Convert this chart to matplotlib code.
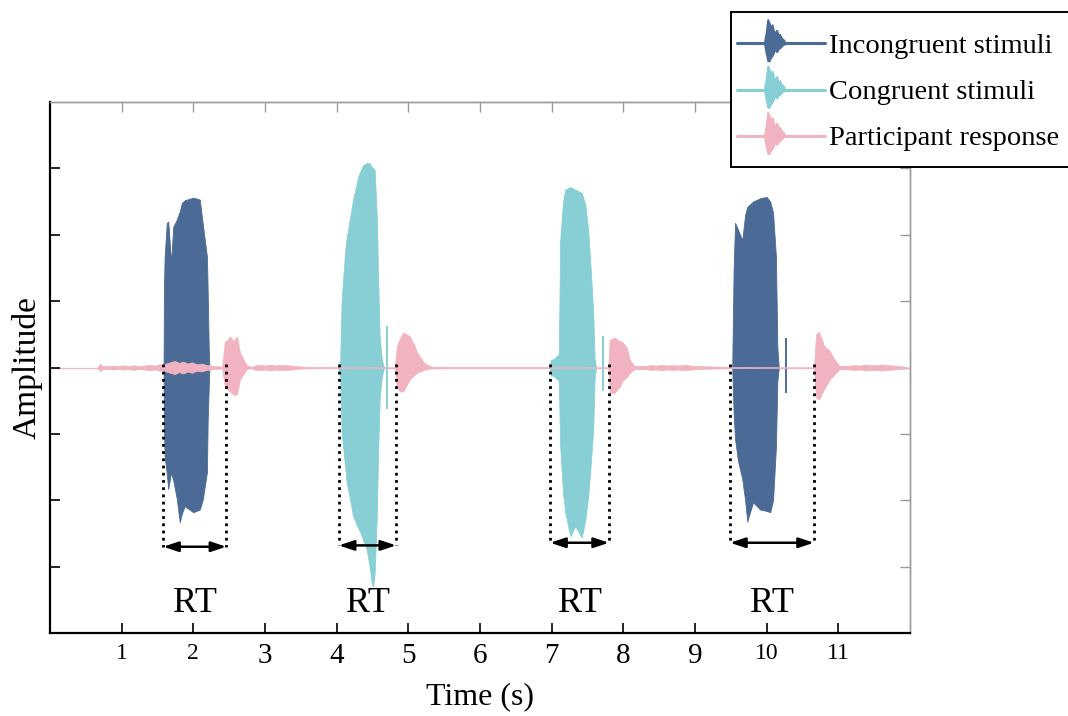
import matplotlib
matplotlib.use("Agg")
import matplotlib.pyplot as plt
from matplotlib.legend_handler import HandlerBase
from matplotlib.lines import Line2D
from matplotlib.patches import Polygon
import numpy as np

# ---------------------------------------------------------------
# Waveform envelopes (time in s, amplitude in arbitrary units)
# ---------------------------------------------------------------
# Incongruent stimulus 1
inc1_t = [1.585, 1.59, 1.60, 1.63, 1.65, 1.69, 1.72, 1.77, 1.81, 1.84, 1.88, 2.00, 2.09, 2.13, 2.19, 2.20, 2.215, 2.225]
inc1_up = [0.0, 1.20, 1.67, 2.18, 2.20, 1.58, 2.12, 2.23, 2.35, 2.48, 2.52, 2.56, 2.53, 2.18, 1.67, 1.17, 0.30, 0.0]
inc1_lo = [0.0, -0.90, -1.34, -1.60, -1.83, -1.58, -1.70, -1.98, -2.33, -2.20, -2.09, -2.18, -2.14, -2.00, -1.58, -0.83, -0.30, 0.0]

# Congruent stimulus 1
con1_t = [4.02, 4.05, 4.07, 4.12, 4.14, 4.19, 4.23, 4.30, 4.33, 4.37, 4.42, 4.46, 4.49, 4.51, 4.53, 4.56, 4.58, 4.60, 4.63, 4.66]
con1_up = [0.0, 0.10, 1.02, 1.77, 1.95, 2.27, 2.53, 2.87, 2.95, 3.05, 3.08, 3.08, 3.02, 3.00, 2.98, 2.27, 1.28, 0.47, 0.12, 0.0]
con1_lo = [0.0, -0.14, -0.98, -1.50, -1.73, -2.00, -2.24, -2.42, -2.48, -2.60, -2.74, -3.00, -3.25, -3.30, -3.10, -2.24, -1.23, -0.48, -0.14, 0.0]

# Congruent stimulus 2
con2_t = [6.97, 6.99, 7.02, 7.05, 7.10, 7.12, 7.16, 7.19, 7.26, 7.33, 7.42, 7.47, 7.51, 7.55, 7.58, 7.60, 7.62]
con2_up = [0.0, 0.12, 0.12, 0.15, 0.20, 1.92, 2.50, 2.68, 2.72, 2.68, 2.63, 2.45, 2.07, 1.40, 0.83, 0.12, 0.0]
con2_lo = [0.0, -0.12, -0.12, -0.15, -0.20, -1.20, -1.90, -2.18, -2.54, -2.39, -2.56, -2.30, -1.94, -1.40, -0.93, -0.15, 0.0]

# Incongruent stimulus 2
inc2_t = [9.52, 9.54, 9.56, 9.60, 9.66, 9.70, 9.73, 9.81, 9.91, 10.00, 10.05, 10.09, 10.13, 10.15, 10.17]
inc2_up = [0.0, 1.50, 2.18, 2.08, 1.92, 2.30, 2.42, 2.50, 2.55, 2.57, 2.50, 2.33, 1.67, 0.30, 0.0]
inc2_lo = [0.0, -0.70, -1.08, -1.40, -1.68, -2.00, -2.32, -2.03, -2.14, -2.16, -2.18, -2.00, -1.19, -0.20, 0.0]

# Short clicks at the end of some stimuli: time, low, high
click_t = [4.70, 7.72, 10.27]
click_lo = [-0.63, -0.36, -0.38]
click_hi = [0.62, 0.47, 0.45]
click_kind = ["congruent", "congruent", "incongruent"]

# Participant responses
resp1_t = [2.40, 2.44, 2.48, 2.51, 2.56, 2.61, 2.65, 2.70, 2.75, 2.82]
resp1_up = [0.0, 0.39, 0.42, 0.47, 0.40, 0.47, 0.23, 0.12, 0.03, 0.01]
resp1_lo = [0.0, -0.29, -0.33, -0.36, -0.41, -0.41, -0.18, -0.10, -0.02, -0.01]

resp2_t = [4.81, 4.84, 4.88, 4.93, 5.02, 5.08, 5.12, 5.23, 5.33]
resp2_up = [0.0, 0.32, 0.43, 0.53, 0.47, 0.35, 0.23, 0.06, 0.01]
resp2_lo = [0.0, -0.29, -0.36, -0.36, -0.18, -0.12, -0.08, -0.03, -0.01]

resp3_t = [7.79, 7.81, 7.88, 7.95, 7.99, 8.05, 8.09, 8.16, 8.30]
resp3_up = [0.0, 0.42, 0.45, 0.40, 0.38, 0.30, 0.12, 0.02, 0.01]
resp3_lo = [0.0, -0.38, -0.38, -0.29, -0.20, -0.14, -0.08, -0.02, -0.01]

resp4_t = [10.66, 10.69, 10.73, 10.80, 10.88, 10.95, 11.02, 11.15]
resp4_up = [0.0, 0.50, 0.54, 0.33, 0.25, 0.12, 0.02, 0.01]
resp4_lo = [0.0, -0.45, -0.48, -0.33, -0.18, -0.10, -0.02, -0.01]

# Background noise on the response channel (half-width of the band)
noise_t = [0.66, 0.68, 0.70, 0.72, 0.74, 0.80, 0.88, 0.95, 1.02, 1.10, 1.18, 1.25, 1.32, 1.40, 1.47, 1.53, 1.58,
           1.62, 1.68, 1.74, 1.80, 1.86, 1.92, 1.98, 2.05, 2.12, 2.18, 2.24, 2.30, 2.36, 2.40,
           2.82, 2.85, 2.92, 3.00, 3.08, 3.15, 3.22, 3.30, 3.38, 3.45, 3.52, 3.60, 4.00, 4.80,
           5.33, 5.40, 5.50, 6.00, 6.90, 7.79,
           8.30, 8.38, 8.46, 8.54, 8.62, 8.70, 8.78, 8.86, 8.94, 9.02, 9.10, 9.50, 10.66,
           11.15, 11.22, 11.30, 11.38, 11.46, 11.54, 11.62, 11.70, 11.78, 11.86, 11.95]
noise_amp = [0.0, 0.03, 0.06, 0.03, 0.025, 0.02, 0.03, 0.02, 0.03, 0.025, 0.035, 0.02, 0.03, 0.04, 0.03, 0.05, 0.04,
             0.06, 0.08, 0.10, 0.07, 0.09, 0.06, 0.08, 0.05, 0.06, 0.04, 0.03, 0.02, 0.02, 0.0,
             0.01, 0.03, 0.04, 0.03, 0.045, 0.03, 0.04, 0.035, 0.03, 0.02, 0.015, 0.01, 0.008, 0.0,
             0.01, 0.015, 0.01, 0.008, 0.008, 0.0,
             0.025, 0.035, 0.03, 0.04, 0.03, 0.035, 0.03, 0.04, 0.03, 0.025, 0.02, 0.01, 0.0,
             0.03, 0.035, 0.03, 0.045, 0.035, 0.04, 0.045, 0.035, 0.03, 0.02, 0.01]

# Reaction-time windows: stimulus onset -> response onset
rt_start = [1.58, 4.03, 6.98, 9.49]
rt_end = [2.46, 4.83, 7.80, 10.66]
rt_level = [-2.70, -2.68, -2.64, -2.64]
rt_label = "RT"

x_ticks = [1, 2, 3, 4, 5, 6, 7, 8, 9, 10, 11]
y_ticks = [-3, -2, -1, 0, 1, 2, 3]

legend_labels = ["Incongruent stimuli", "Congruent stimuli", "Participant response"]

# ---------------------------------------------------------------
colors = {
    "incongruent": "#4b6a96",
    "congruent": "#87cfd4",
    "response": "#f2b3c0",
}
frame_grey = "#9a9a9a"

plt.rcParams["font.family"] = ["Liberation Serif", "DejaVu Serif"]

fig = plt.figure(figsize=(10.68, 7.16), dpi=100)
ax = fig.add_axes([0.0468, 0.1159, 0.8052, 0.7416])

ax.set_xlim(0, 12)
ax.set_ylim(-4, 4)

# thin baseline of the response channel
ax.axhline(0, color=colors["response"], lw=0.9, zorder=1)

# stimuli
for t, up, lo, kind in [
    (inc1_t, inc1_up, inc1_lo, "incongruent"),
    (con1_t, con1_up, con1_lo, "congruent"),
    (con2_t, con2_up, con2_lo, "congruent"),
    (inc2_t, inc2_up, inc2_lo, "incongruent"),
]:
    ax.fill_between(t, lo, up, color=colors[kind], lw=0.6, edgecolor=colors[kind], zorder=2)

for t, lo, hi, kind in zip(click_t, click_lo, click_hi, click_kind):
    ax.vlines(t, lo, hi, color=colors[kind], lw=1.4, zorder=2)

# participant responses
for t, up, lo in [
    (resp1_t, resp1_up, resp1_lo),
    (resp2_t, resp2_up, resp2_lo),
    (resp3_t, resp3_up, resp3_lo),
    (resp4_t, resp4_up, resp4_lo),
]:
    ax.fill_between(t, lo, up, color=colors["response"], lw=0.5, edgecolor=colors["response"], zorder=3)

noise_lo = [-a for a in noise_amp]
ax.fill_between(noise_t, noise_lo, noise_amp, color=colors["response"], lw=0.5,
                edgecolor=colors["response"], zorder=3)

# RT markers
for s, e, lvl in zip(rt_start, rt_end, rt_level):
    ax.plot([s, s], [0.05, lvl], ls=(0, (1, 1.6)), color="black", lw=2, zorder=5)
    ax.plot([e, e], [0.05, lvl], ls=(0, (1, 1.6)), color="black", lw=2, zorder=5)
    ax.annotate("", xy=(e, lvl), xytext=(s, lvl),
                arrowprops=dict(arrowstyle="<|-|>,head_length=0.9,head_width=0.3",
                                color="black", lw=1.8, shrinkA=0, shrinkB=0),
                zorder=6)
    ax.text((s + e) / 2, -3.56, rt_label, ha="center", va="center", fontsize=26)

# axes styling: black left/bottom, grey mirrored ticks on top/right
ax.set_xticks(x_ticks)
ax.set_xticklabels([str(v) for v in x_ticks])
ax.set_yticks(y_ticks)
ax.set_yticklabels([])
ax.tick_params(axis="both", direction="in", length=7, width=1.2, colors="black", pad=7)
for lab in ax.get_xticklabels():
    lab.set_fontsize(17 if lab.get_text() in ("1", "2", "10", "11") else 21)

top = ax.secondary_xaxis("top")
top.set_xticks(x_ticks)
top.set_xticklabels([])
top.tick_params(direction="in", length=7, width=1.0, colors=frame_grey)
top.spines["top"].set_color(frame_grey)
top.spines["top"].set_linewidth(1.0)

right = ax.secondary_yaxis("right")
right.set_yticks(y_ticks)
right.set_yticklabels([])
right.tick_params(direction="in", length=7, width=1.0, colors=frame_grey)
right.spines["right"].set_color(frame_grey)
right.spines["right"].set_linewidth(1.0)

ax.spines["left"].set_linewidth(1.6)
ax.spines["bottom"].set_linewidth(1.6)
for side in ("top", "right"):
    ax.spines[side].set_color(frame_grey)
    ax.spines[side].set_linewidth(1.0)

ax.set_xlabel("Time (s)", fontsize=23, labelpad=10)
ax.set_ylabel("Amplitude", fontsize=24)
ax.yaxis.set_label_coords(-0.009, 0.5)


# miniature waveform used as legend key
class WaveHandler(HandlerBase):
    bars = [0.12, 0.45, 1.0, 0.85, 0.62, 0.78, 0.5, 0.42, 0.55, 0.32, 0.36, 0.22, 0.16, 0.1]
    skew = [0.9, 1.0, 0.75, 0.9, 1.0, 0.7, 0.8, 0.6, 0.7, 0.8, 0.6, 0.7, 0.5, 0.6]

    def create_artists(self, legend, orig_handle, xdescent, ydescent, width, height,
                       fontsize, trans):
        color = orig_handle.get_color()
        x0 = -xdescent - 4
        cy = -ydescent + height / 2
        line = Line2D([x0, x0 + width + 2], [cy, cy], color=color, lw=2.2,
                      solid_capstyle="round", transform=trans)
        n = len(self.bars)
        bx = np.linspace(x0 + 0.33 * width, x0 + 0.56 * width, n)
        half = height * 0.62
        upper = [(x, cy + half * b) for x, b in zip(bx, self.bars)]
        lower = [(x, cy - half * b * s) for x, b, s in zip(bx[::-1], self.bars[::-1], self.skew[::-1])]
        poly = Polygon(upper + lower, closed=True, facecolor=color, edgecolor=color,
                       lw=1.2, transform=trans)
        return [line, poly]


handles = [Line2D([], [], color=colors[k]) for k in ("incongruent", "congruent", "response")]
leg = fig.legend(handles, legend_labels, loc="upper left", bbox_to_anchor=(0.684, 0.983),
                 bbox_transform=fig.transFigure, borderaxespad=0, fontsize=20.5,
                 handler_map={Line2D: WaveHandler()}, handlelength=3.0, handleheight=1.7,
                 handletextpad=0.05, labelspacing=0.28, borderpad=0.42, fancybox=False,
                 framealpha=1, edgecolor="black")
leg.get_frame().set_linewidth(1.4)

fig.savefig("out.png", dpi=100)
